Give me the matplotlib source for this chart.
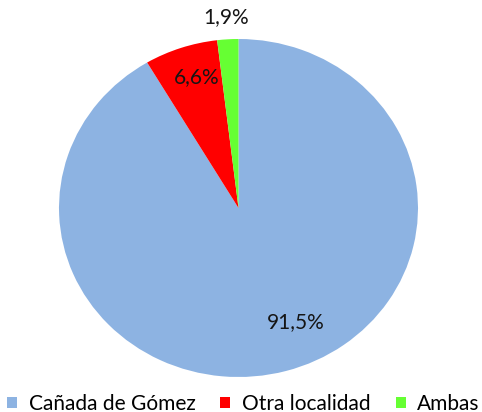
import numpy as np
import matplotlib.pyplot as plt

labels = ['Cañada de Gómez', 'Otra localidad', 'Ambas']
values = [91.5, 6.6, 1.9]
colors = ['#8DB3E2', '#FF0000', '#66FF33']

plt.rcParams['font.family'] = ['Lato', 'DejaVu Sans']

fig = plt.figure(figsize=(4.82, 4.12), dpi=100)
ax = fig.add_axes([59 / 482, 35 / 412, 359 / 482, 338 / 412])

wedges, _ = ax.pie(values, colors=colors, startangle=90, counterclock=False,
                   wedgeprops={'linewidth': 0})
ax.set_aspect('auto')
ax.set_xlim(-1, 1)
ax.set_ylim(-1, 1)

# label placement: radius and angle tweak per wedge
lab_pos = [(0.745, 10), (0.81, -2), (1.13, 0)]
for w, v, (r, dang) in zip(wedges, values, lab_pos):
    ang = np.deg2rad((w.theta1 + w.theta2) / 2 + dang)
    ax.text(r * np.cos(ang), r * np.sin(ang), f'{v:.1f}%'.replace('.', ','),
            ha='center', va='center', fontsize=15, color='#151515', clip_on=False)

fig.legend(wedges, labels, loc='center', bbox_to_anchor=(0.505, 8 / 412), ncol=3,
           frameon=False, fontsize=15, handlelength=0.48, handleheight=0.48,
           handletextpad=0.55, columnspacing=1.2, borderaxespad=0)

fig.savefig('out.png', dpi=100)
